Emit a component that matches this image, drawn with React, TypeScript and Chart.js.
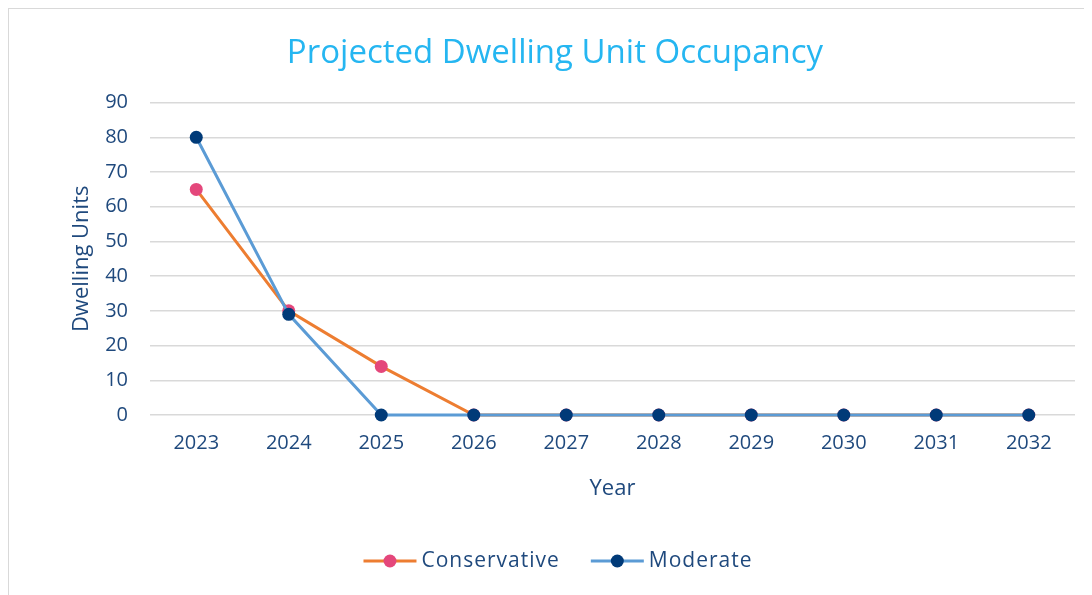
import React, { useEffect, useRef } from "react";
import { Chart, registerables } from "chart.js";

Chart.register(...registerables);

const years = ["2023", "2024", "2025", "2026", "2027", "2028", "2029", "2030", "2031", "2032"];
const conservative = [65, 30, 14, 0, 0, 0, 0, 0, 0, 0];
const moderate = [80, 29, 0, 0, 0, 0, 0, 0, 0, 0];
const yTicksMax = 90;
const yStep = 10;

const FONT = "'Open Sans', 'Noto Sans', sans-serif";
const TEXT = "#1F497D";
const PAD_L = 26;
const PAD_R = 17;

const legendItems = [
  { label: "Conservative", line: "#ED7D31", dot: "#E4477B" },
  { label: "Moderate", line: "#5B9BD5", dot: "#003A78" },
];

const legendPlugin = {
  id: "customLegend",
  afterDraw(chart: any) {
    const ctx = chart.ctx;
    ctx.save();
    ctx.font = `21px ${FONT}`;
    try {
      (ctx as any).letterSpacing = "1px";
    } catch (e) {}
    const lineLen = 53;
    const gapText = 5;
    const gapItem = 31;
    const widths = legendItems.map((it) => lineLen + gapText + ctx.measureText(it.label).width);
    const total = widths.reduce((a, b) => a + b, 0) + gapItem * (legendItems.length - 1);
    const center = (PAD_L + chart.width - PAD_R) / 2 + 3;
    let x = center - total / 2;
    const y = chart.height - 34;
    legendItems.forEach((it, i) => {
      ctx.strokeStyle = it.line;
      ctx.lineWidth = 3;
      ctx.beginPath();
      ctx.moveTo(x, y);
      ctx.lineTo(x + lineLen, y);
      ctx.stroke();
      ctx.fillStyle = it.dot;
      ctx.beginPath();
      ctx.arc(x + lineLen / 2, y, 6.5, 0, Math.PI * 2);
      ctx.fill();
      ctx.fillStyle = TEXT;
      ctx.textBaseline = "middle";
      ctx.textAlign = "left";
      ctx.fillText(it.label, x + lineLen + gapText, y);
      x += widths[i] + gapItem;
    });
    ctx.restore();
  },
};

export default function App() {
  const ref = useRef<HTMLCanvasElement>(null);
  useEffect(() => {
    if (!ref.current) return;
    const chart = new Chart(ref.current, {
      type: "line",
      data: {
        labels: years,
        datasets: [
          {
            label: "Moderate",
            data: moderate,
            borderColor: "#5B9BD5",
            backgroundColor: "#003A78",
            pointBackgroundColor: "#003A78",
            pointBorderColor: "#003A78",
            pointRadius: 6.5,
            pointBorderWidth: 0,
            borderWidth: 3,
            tension: 0,
            clip: false,
            order: 0,
          },
          {
            label: "Conservative",
            data: conservative,
            borderColor: "#ED7D31",
            backgroundColor: "#E4477B",
            pointBackgroundColor: "#E4477B",
            pointBorderColor: "#E4477B",
            pointRadius: 6.5,
            pointBorderWidth: 0,
            borderWidth: 3,
            tension: 0,
            clip: false,
            order: 1,
          },
        ],
      },
      options: {
        responsive: false,
        animation: false,
        layout: { padding: { left: PAD_L, right: PAD_R, top: 0, bottom: 93 } },
        plugins: {
          legend: { display: false },
          tooltip: { enabled: false },
          title: {
            display: true,
            text: "Projected Dwelling Unit Occupancy",
            color: "#25B6F1",
            font: { family: FONT, size: 33, weight: "normal" },
            padding: { top: 25, bottom: 29 },
          },
        },
        scales: {
          x: {
            offset: true,
            grid: { display: false, drawTicks: false },
            border: { display: false },
            ticks: { color: TEXT, font: { family: FONT, size: 20 }, padding: 16 },
            title: {
              display: true,
              text: "Year",
              color: TEXT,
              font: { family: FONT, size: 22 },
              padding: 0,
            },
            afterFit: (s: any) => {
              s.height = 87;
            },
          },
          y: {
            min: 0,
            max: yTicksMax,
            ticks: { stepSize: yStep, color: TEXT, font: { family: FONT, size: 20 }, padding: 22 },
            grid: { color: "#D9D9D9", lineWidth: 1.5, drawTicks: false },
            border: { display: false },
            title: {
              display: true,
              text: "Dwelling Units",
              color: TEXT,
              font: { family: FONT, size: 22 },
              padding: { top: 34, bottom: 34 },
            },
            afterFit: (s: any) => {
              s.width = 115;
            },
          },
        },
      },
      plugins: [legendPlugin],
    });
    return () => chart.destroy();
  }, []);
  return (
    <div style={{ borderTop: "1px solid #D9D9D9", borderLeft: "1px solid #D9D9D9", width: 1083, height: 586, background: "#fff" }}>
      <canvas ref={ref} width={1083} height={586} style={{ display: "block" }} />
    </div>
  );
}
